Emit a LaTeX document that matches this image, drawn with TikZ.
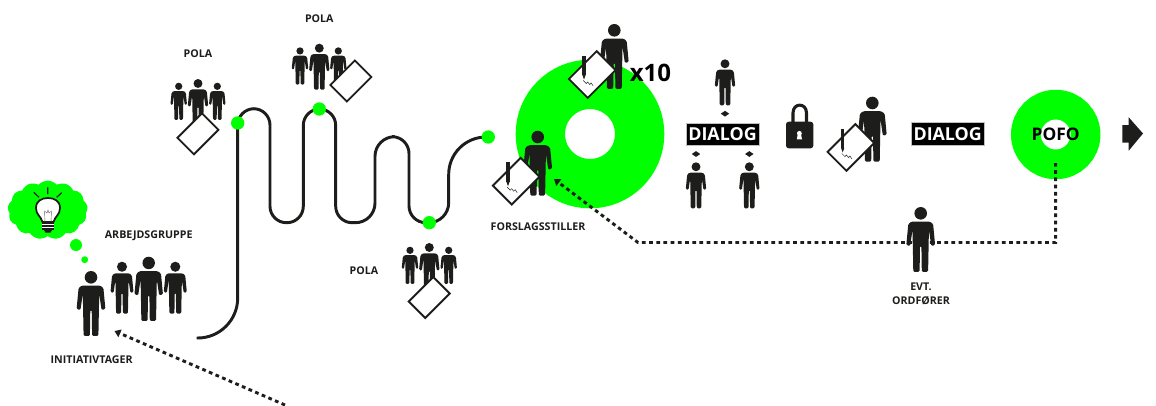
\documentclass[tikz,border=0pt]{standalone}
\usepackage{fontspec}
\setmainfont{Open Sans}
\usetikzlibrary{arrows.meta, backgrounds, shapes.geometric, shapes.symbols}
\definecolor{ringgreen}{RGB}{0,255,0}
\definecolor{inkblack}{RGB}{29,29,27}
\tikzset{
  x=.75pt, y=-.75pt,
  lbl/.style={font=\bfseries\fontsize{8}{10.5}\selectfont, text=inkblack, align=center, inner sep=0pt},
  dialogbox/.style={fill=black, draw=black!25, line width=.4pt, text=white, font=\bfseries\fontsize{13.4}{16}\selectfont, minimum width=55pt, minimum height=17pt, inner sep=0pt},
  ring/.style={circle, draw=ringgreen, fill=white, inner sep=0pt, outer sep=0pt},
  bigring/.style={ring, line width=37pt, minimum size=74.5pt},
  smallring/.style={ring, line width=22.3pt, minimum size=44.8pt, font=\bfseries\fontsize{13}{16}\selectfont, text=black},
  stopdot/.style={circle, fill=ringgreen, inner sep=0pt, minimum size=10pt},
  paper/.style={rectangle, rotate=45, draw=inkblack, fill=white, line width=1.4pt, inner sep=0pt, minimum width=26pt, minimum height=17.5pt},
  signpaper/.style={paper, minimum width=29.5pt, minimum height=20pt},
  talk/.style={diamond, fill=inkblack, inner sep=0pt, minimum width=6.5pt, minimum height=4.5pt},
  track/.style={draw=inkblack, line width=2.2pt},
  dots/.style={draw=inkblack, line width=2.2pt, dash pattern=on 2.8pt off 2.6pt},
  person/.pic={
    \fill[inkblack] (0,6.3) circle[radius=6.3];
    \fill[inkblack, rounded corners=.9pt]
      (-9,14.5) -- (9,14.5) -- (12.4,17) -- (14.4,38) -- (10.6,39) -- (8.2,23) -- (7.4,64.8) -- (1.1,64.8) -- (.7,39)
      -- (-.7,39) -- (-1.1,64.8) -- (-7.4,64.8) -- (-8.2,23) -- (-10.6,39) -- (-14.4,38) -- (-12.4,17) -- cycle;
  },
  signature/.pic={
    \fill[inkblack] (-9.8,-19) rectangle (-6.6,.5);
    \fill[inkblack] (-9.8,.5) -- (-6.6,.5) -- (-8.2,5) -- cycle;
    \draw[inkblack, line width=.35pt] (-9,6) -- (-6,9) -- (-4.5,7.5) -- (-2.5,10) -- (-1,8.5) -- (1,11.5);
  }
}
\begin{document}
\begin{tikzpicture}
  \useasboundingbox (0,0) rectangle (1156,405);

  % rings
  \node[bigring] (forslag_ring) at (590,134) {};
  \node[smallring] (pofo) at (1055.7,134.5) {POFO};

  % the way through the hearings
  \node[stopdot] (stop_a) at (237.7,123) {};
  \node[stopdot] (stop_b) at (319.3,109) {};
  \node[stopdot] (stop_c) at (429.3,222.7) {};
  \node[stopdot] (stop_d) at (488.3,137) {};
  \coordinate (track_start) at (196.7,338);
  \begin{scope}[on background layer]
    \draw[track, rounded corners=30pt] (track_start) -- (237.7,338) -- (stop_a.center);
    \draw[track, rounded corners=12.3pt] (stop_a.center) -- (237.7,108.7) -- (270,108.7) -- (270,222.7) -- (303.3,222.7) -- (303.3,109) -- (stop_b.center);
    \draw[track, rounded corners=12.3pt] (stop_b.center) -- (335.7,109) -- (335.7,222.7) [rounded corners=14.7pt] -- (375,222.7) -- (375,136.7) [rounded corners=12.6pt] -- (409,136.7) -- (409,222.7) [rounded corners=15pt] -- (stop_c.center);
    \draw[track, rounded corners=15pt] (stop_c.center) -- (448.7,222.7) [rounded corners=28pt] -- (448.7,137) -- (stop_d.center);
  \end{scope}

  % dotted connectors
  \coordinate (outside) at (285,405);
  \coordinate (initiator_in) at (114.5,331);
  \coordinate (pofo_foot) at (1055.7,163);
  \coordinate (kink) at (638,242.5);
  \coordinate (forslag_in) at (554,179);
  \draw[dots, -{Triangle[length=4.5pt, width=6pt]}] (outside) -- (initiator_in);
  \draw[dots, -{Triangle[length=4.5pt, width=6pt]}] (pofo_foot) |- (kink) -- (forslag_in);

  % idea
  \node[cloud, cloud puffs=13, cloud puff arc=95, aspect=1.4, fill=ringgreen, inner sep=0pt, minimum width=60pt, minimum height=44pt] (idea) at (47.7,210) {};
  \node[circle, fill=ringgreen, inner sep=0pt, minimum size=9pt] (puff_a) at (76,245) {};
  \node[circle, fill=ringgreen, inner sep=0pt, minimum size=5.2pt] (puff_b) at (84.7,259.7) {};
  \draw[inkblack, line width=1.3pt, fill=white] (42.5,222) .. controls (41,216) and (36,215) .. (36,208) .. controls (36,201) and (41.5,198) .. (48,198) .. controls (54.5,198) and (60,201) .. (60,208) .. controls (60,215) and (55,216) .. (53.5,222) -- cycle;
  \fill[inkblack] (42,222) rectangle (54,230);
  \draw[white, line width=.5pt] (42,224.7) -- (54,224.7) (42,227.3) -- (54,227.3);
  \fill[inkblack] (44,230) -- (52,230) -- (50.5,232.5) -- (45.5,232.5) -- cycle;
  \draw[inkblack!70, line width=.3pt] (45,222) -- (44.5,211) -- (47,213) -- (48,210) -- (49,213) -- (51.5,211) -- (51,222);
  \draw[inkblack, line width=.9pt] (47.7,187.3) -- (47.7,194) (33.7,192.3) -- (39,197.3) (61.7,192.7) -- (56.7,197.3);

  % initiator and working group
  \pic at (91,271) {person};
  \pic[scale=.8] at (122,261.7) {person};
  \pic[scale=.99] at (148.7,256.7) {person};
  \pic[scale=.8] at (175.3,261.7) {person};
  \node[lbl] (initiativtager) at (91.7,359.3) {INITIATIVTAGER};
  \node[lbl] (arbejdsgruppe) at (148.7,236) {ARBEJDSGRUPPE};

  % hearings
  \pic[scale=.575] at (178.7,82.7) {person};
  \pic[scale=.71] at (198,79) {person};
  \pic[scale=.575] at (217.3,82.7) {person};
  \node[paper] (paper_a) at (197.9,133.8) {};
  \node[lbl] (pola_a) at (198,54) {POLA};

  \pic[scale=.575] at (300,47.3) {person};
  \pic[scale=.71] at (319.3,43.7) {person};
  \pic[scale=.575] at (338.3,47.3) {person};
  \node[paper] (paper_b) at (350.9,81) {};
  \node[lbl] (pola_b) at (319.3,18.3) {POLA};

  \pic[scale=.575] at (410,246.7) {person};
  \pic[scale=.71] at (429.3,243) {person};
  \pic[scale=.575] at (448.7,246.7) {person};
  \node[paper] (paper_c) at (429.2,297.5) {};
  \node[lbl] (pola_c) at (364,270.7) {POLA};

  % signatures
  \pic at (614.3,24) {person};
  \node[signpaper] (paper_ten) at (592.2,74.5) {};
  \pic at (paper_ten.center) {signature};
  \node[font=\bfseries\fontsize{18}{20}\selectfont, text=black, inner sep=0pt] (times_ten) at (650.5,72.5) {x10};

  \pic at (537.7,130.7) {person};
  \node[signpaper] (paper_forslag) at (516.2,181.2) {};
  \pic at (paper_forslag.center) {signature};
  \node[lbl] (forslagsstiller) at (538,227) {FORSLAGSSTILLER};

  % dialog
  \node[dialogbox] (dialog_a) at (722.5,134.2) {DIALOG};
  \pic[scale=.71] at (725,59.3) {person};
  \pic[scale=.71] at (696,162.3) {person};
  \pic[scale=.71] at (749.3,162.3) {person};
  \node[talk] (talk_a) at (725,113.7) {};
  \node[talk] (talk_b) at (696,154) {};
  \node[talk] (talk_c) at (749.3,154) {};

  % lock
  \draw[inkblack, line width=2.3pt] (793,124) -- (793,113) .. controls (793,102.5) and (806.5,102.5) .. (806.5,113) -- (806.5,124);
  \fill[inkblack, rounded corners=2pt] (786,121.7) rectangle (813.3,148.3);
  \fill[white] (799.4,133.3) circle[radius=2.4];
  \fill[white] (797.8,134) -- (801,134) -- (802,139.3) -- (796.8,139.3) -- cycle;

  \pic at (872.3,96.7) {person};
  \node[signpaper] (paper_lock) at (850.9,147.5) {};
  \pic at (paper_lock.center) {signature};

  \node[dialogbox] (dialog_b) at (947.7,134) {DIALOG};

  % mayor
  \pic at (920.7,207) {person};
  \node[lbl] (ordforer) at (921,293.7) {EVT.\\ORDFØRER};

  % next step
  \fill[inkblack] (1122.3,125) -- (1128.7,125) -- (1128.7,117.3) -- (1143,133.5) -- (1128.7,150.7) -- (1128.7,142.7) -- (1122.3,142.7) -- cycle;
\end{tikzpicture}
\end{document}
